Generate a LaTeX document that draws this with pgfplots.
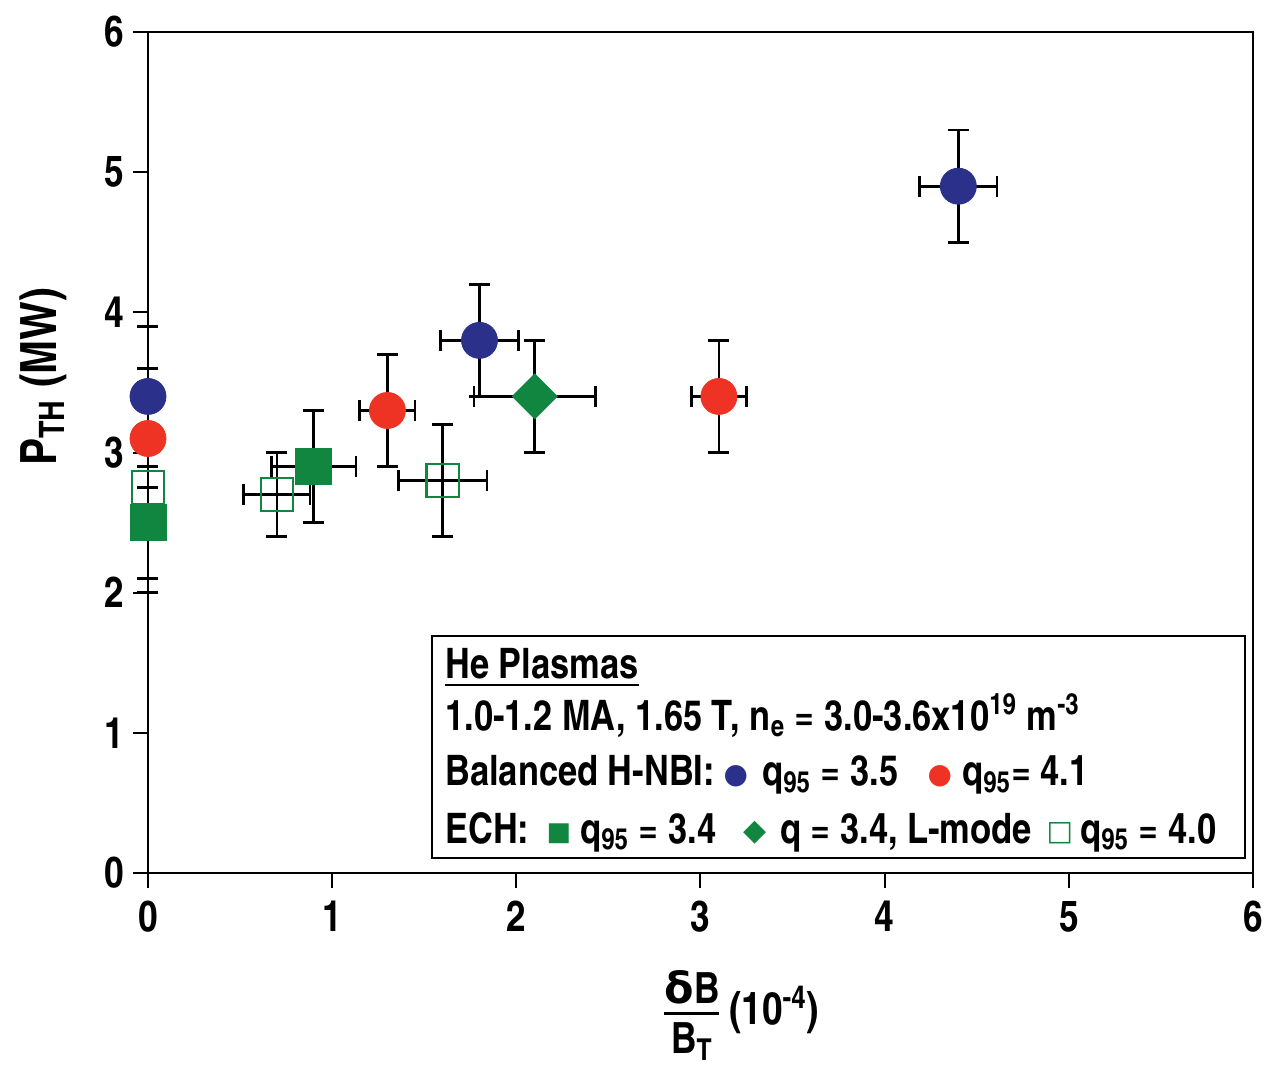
\documentclass[border=0pt]{standalone}
\usepackage{fontspec}
\setmainfont{texgyreheroscn-bold.otf}
\newfontfamily\dv{DejaVu Sans}
\usepackage{amsmath}
\usepackage{pgfplots}
\pgfplotsset{compat=1.18}
\definecolor{nblue}{RGB}{43,49,139}
\definecolor{nred}{RGB}{238,51,36}
\definecolor{ngreen}{RGB}{16,134,64}
\pgfplotsset{
  ebars/.style={draw=none, mark=none, forget plot,
    error bars/.cd, x dir=both, x explicit, y dir=both, y explicit,
    error bar style={draw=black, line width=1.35pt},
    error mark options={draw=black, rotate=90, mark size=5.25pt, line width=1.35pt}},
}
\begin{document}
\begin{tikzpicture}
\path[use as bounding box] (-74pt,-97pt) rectangle (558pt,436.5pt);
\begin{axis}[
  scale only axis, width=552.5pt, height=420.5pt,
  xmin=0, xmax=6, ymin=0, ymax=6,
  xtick={0,1,2,3,4,5,6}, ytick={0,1,2,3,4,5,6},
  axis line style={line width=1pt},
  tick style={line width=1pt, black},
  tick align=outside, major tick length=7.5pt,
  xtick pos=bottom, ytick pos=left,
  /pgf/number format/assume math mode=true,
  tick label style={font=\fontsize{21.5}{25}\selectfont},
  xticklabel style={yshift=-3pt},
  yticklabel style={xshift=-1pt},
  clip=false,
  xlabel={$\genfrac{}{}{1.2pt}{1}{\text{\fontsize{21.5}{25}\selectfont{\dv\bfseries δ}B\rule[-3.5pt]{0pt}{1pt}}}{\text{\fontsize{21.5}{25}\selectfont\rule{0pt}{18pt}B\textsubscript{T}}}$\,(10\textsuperscript{-4})},
  xlabel style={font=\fontsize{22.5}{26}\selectfont, at={(axis description cs:0.5,0)}, anchor=north, yshift=-45pt, xshift=20pt},
  ylabel={P\textsubscript{TH} (MW)},
  ylabel style={font=\fontsize{25}{28}\selectfont, at={(axis description cs:0,0.59)}, anchor=south, yshift=37pt},
]
% error bars first
\addplot[ebars] coordinates {(0,3.4) +- (0,0.5) (1.8,3.8) +- (0.21,0.4) (4.4,4.9) +- (0.21,0.4)};
\addplot[ebars] coordinates {(0,3.1) +- (0,0.5) (1.3,3.3) +- (0.15,0.4) (3.1,3.4) +- (0.15,0.4)};
\addplot[ebars] coordinates {(0,2.5) +- (0,0.4) (0.9,2.9) +- (0.23,0.4)};
\addplot[ebars] coordinates {(2.1,3.4) +- (0.33,0.4)};
\addplot[ebars] coordinates {(0,2.75) +- (0,0.75) (0.7,2.7) +- (0.18,0.3) (1.6,2.8) +- (0.24,0.4)};
% markers
\addplot[only marks, mark=*, mark size=9pt, color=nblue] coordinates {(0,3.4) (1.8,3.8) (4.4,4.9)};
\addplot[only marks, mark=*, mark size=9pt, color=nred] coordinates {(0,3.1) (1.3,3.3) (3.1,3.4)};
\addplot[only marks, mark=square*, mark size=9pt, color=ngreen] coordinates {(0,2.5) (0.9,2.9)};
\addplot[only marks, mark=square*, mark size=7.95pt, mark options={rotate=45}, color=ngreen] coordinates {(2.1,3.4)};
\addplot[only marks, mark=square, mark size=8.1pt, mark options={line width=1.1pt}, color=ngreen] coordinates {(0,2.75) (0.7,2.7) (1.6,2.8)};
% legend box
\draw[line width=1pt] (axis cs:1.542,0.107) rectangle (axis cs:5.955,1.69);
\begin{scope}[every node/.style={anchor=base west, inner sep=0pt, font=\fontsize{21}{25}\selectfont}]
\node (hp) at (axis cs:1.612,1.391) {He Plasmas};
\draw[line width=1pt] ([yshift=-3.5pt]hp.base west) -- ([yshift=-3.5pt]hp.base east);
\node at (axis cs:1.612,1.020) {1.0-1.2 MA, 1.65 T, n\textsubscript{e} = 3.0-3.6x10\textsuperscript{19} m\textsuperscript{-3}};
\node at (axis cs:1.612,0.621) {Balanced H-NBI:};
\node[anchor=base] at (axis cs:3.192,0.641) {\color{nblue}\dv\fontsize{14}{16}\selectfont ●};
\node at (axis cs:3.333,0.621) {q\textsubscript{95} = 3.5};
\node[anchor=base] at (axis cs:4.300,0.641) {\color{nred}\dv\fontsize{14}{16}\selectfont ●};
\node at (axis cs:4.419,0.621) {q\textsubscript{95}= 4.1};
\node at (axis cs:1.612,0.214) {ECH:};
\node[anchor=base] at (axis cs:2.231,0.234) {\color{ngreen}\dv\fontsize{13}{15}\selectfont ■};
\node at (axis cs:2.345,0.214) {q\textsubscript{95} = 3.4};
\node[anchor=base] at (axis cs:3.295,0.234) {\color{ngreen}\dv\fontsize{15}{17}\selectfont ◆};
\node at (axis cs:3.431,0.214) {q = 3.4, L-mode};
\node[anchor=base] at (axis cs:4.951,0.234) {\color{ngreen}\dv\fontsize{14}{16}\selectfont □};
\node at (axis cs:5.060,0.214) {q\textsubscript{95} = 4.0};
\end{scope}
\end{axis}
\end{tikzpicture}
\end{document}
